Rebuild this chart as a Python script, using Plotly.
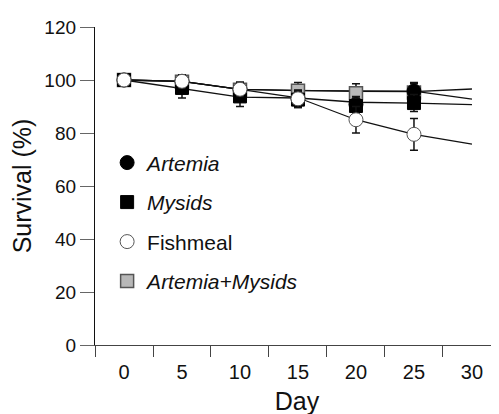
import plotly.graph_objects as go

# ---- data ----
days = [0, 5, 10, 15, 20, 25]
line_days = [0, 5, 10, 15, 20, 25, 30]

artemia = [100, 99.5, 96.5, 93.0, 90.8, 95.8]
artemia_err = [0, 1.5, 2.5, 3.0, 3.0, 3.3]
mysids = [100, 97.0, 93.8, 92.6, 90.2, 91.3]
mysids_err = [0, 3.8, 3.8, 3.0, 3.0, 3.2]
fishmeal = [100, 99.5, 96.5, 92.9, 85.0, 79.5]
fishmeal_err = [0, 2.5, 2.7, 3.3, 5.0, 6.0]
art_mys = [100, 99.3, 96.3, 95.9, 95.0, 95.3]
art_mys_err = [0, 1.5, 2.5, 3.2, 3.6, 3.3]

artemia_line = [100, 99.5, 96.5, 96.0, 95.9, 95.8, 92.8]
mysids_line = [100, 96.8, 93.5, 93.2, 91.6, 91.3, 90.7]
fishmeal_line = [100, 99.5, 96.5, 93.3, 85.0, 79.5, 75.8]
art_mys_line = [100, 99.5, 96.5, 96.0, 95.7, 95.6, 96.6]

x_ticks = [0, 5, 10, 15, 20, 25, 30]
x_minor = [-2.5, 2.5, 7.5, 12.5, 17.5, 22.5, 27.5]
y_ticks = [0, 20, 40, 60, 80, 100, 120]

FONT = "Arial, Liberation Sans, sans-serif"

fig = go.Figure()

# lines (under markers)
for ys in [mysids_line, art_mys_line, artemia_line, fishmeal_line]:
    fig.add_trace(go.Scatter(x=line_days, y=ys, mode="lines",
                             line=dict(color="#111111", width=1.3),
                             showlegend=False, hoverinfo="skip"))

def err(vals):
    return dict(type="data", array=vals, visible=True, color="#111111",
                thickness=1.5, width=4)

fig.add_trace(go.Scatter(
    x=days, y=art_mys, mode="markers", name="<i>Artemia+Mysids</i>",
    legendgroup="d", legendrank=4,
    marker=dict(symbol="square", size=13, color="#b8b8b8",
                line=dict(color="#555555", width=1.5)),
    error_y=err(art_mys_err)))
fig.add_trace(go.Scatter(
    x=days, y=artemia, mode="markers", name="<i>Artemia</i>",
    legendgroup="a", legendrank=1,
    marker=dict(symbol="circle", size=14, color="black",
                line=dict(color="black", width=1)),
    error_y=err(artemia_err)))
fig.add_trace(go.Scatter(
    x=days, y=mysids, mode="markers", name="<i>Mysids</i>",
    legendgroup="b", legendrank=2,
    marker=dict(symbol="square", size=13, color="black",
                line=dict(color="black", width=1)),
    error_y=err(mysids_err)))
fig.add_trace(go.Scatter(
    x=days, y=fishmeal, mode="markers", name="Fishmeal",
    legendgroup="c", legendrank=3,
    marker=dict(symbol="circle", size=14, color="white",
                line=dict(color="#555555", width=1)),
    error_y=err(fishmeal_err)))

fig.update_layout(
    width=499, height=414,
    margin=dict(l=87, r=8, t=19, b=77, autoexpand=False),
    paper_bgcolor="white", plot_bgcolor="white",
    font=dict(family=FONT, color="#111111"),
    showlegend=True,
    legend=dict(x=0.03, y=0.637, xanchor="left", yanchor="top",
                font=dict(size=21, family=FONT, color="#111111"),
                tracegroupgap=9.2, bgcolor="rgba(0,0,0,0)",
                itemclick=False),
    xaxis=dict(range=[-2.5, 32.33], tickmode="array", tickvals=x_ticks,
               ticktext=[str(v) for v in x_ticks], ticks="", ticklen=0,
               ticklabelstandoff=9, automargin=False,
               showline=True, linecolor="#444444", linewidth=1.3,
               showgrid=False, zeroline=False,
               tickfont=dict(size=20, family=FONT, color="#111111"),
               title=dict(text="Day", font=dict(size=25, family=FONT, color="#111111"),
                          standoff=10),
               minor=dict(tickmode="array", tickvals=x_minor, ticks="outside",
                          ticklen=11, tickwidth=1.3, tickcolor="#444444",
                          showgrid=False)),
    yaxis=dict(range=[0, 120], tickmode="array", tickvals=y_ticks,
               ticks="outside", ticklen=14, tickwidth=1.3, tickcolor="#666666",
               showline=True, linecolor="#111111", linewidth=1.3,
               showgrid=False, zeroline=False, automargin=False,
               tickfont=dict(size=19, family=FONT, color="#111111"),
               title=dict(text="Survival (%)", font=dict(size=25, family=FONT, color="#111111"),
                          standoff=6)),
)

fig.write_html("out.html")
